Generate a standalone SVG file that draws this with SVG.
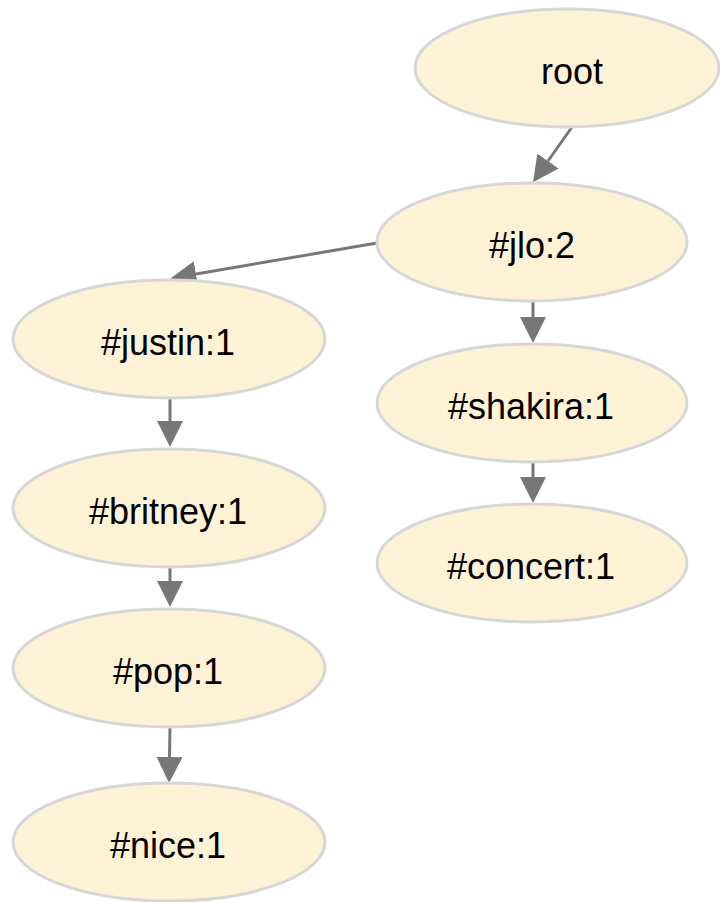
<svg xmlns="http://www.w3.org/2000/svg" width="720" height="902" viewBox="0 0 720 902">
<style>
.node ellipse{fill:#fef2d6;stroke:#d6d6d6;stroke-width:3}
.node text{font-family:"Liberation Sans",Arial,sans-serif;font-size:36px;fill:#000;text-anchor:middle}
.edges path{fill:none;stroke:#777;stroke-width:3}
</style>
<defs>
<marker id="arr" markerUnits="userSpaceOnUse" markerWidth="26" markerHeight="26" refX="0" refY="13" orient="auto" viewBox="0 0 26 26">
<path d="M0,0 L26,13 L0,26 z" fill="#777"/>
</marker>
</defs>
<rect width="720" height="902" fill="#fff"/>
<g class="edges">
<path d="M572,127 L548,161" marker-end="url(#arr)"/>
<path d="M377,243 L196,274" marker-end="url(#arr)"/>
<path d="M533,302 L533,317" marker-end="url(#arr)"/>
<path d="M533,463 L533,477" marker-end="url(#arr)"/>
<path d="M170,399 L170,421" marker-end="url(#arr)"/>
<path d="M170,568 L170,581" marker-end="url(#arr)"/>
<path d="M170,728 L169.5,757" marker-end="url(#arr)"/>
</g>
<g id="root" class="node"><ellipse cx="567" cy="68" rx="152" ry="59"/><text x="572" y="84">root</text></g>
<g id="jlo" class="node"><ellipse cx="532" cy="242" rx="155" ry="59"/><text x="532" y="258">#jlo:2</text></g>
<g id="justin" class="node"><ellipse cx="169" cy="339" rx="156" ry="59"/><text x="168" y="355">#justin:1</text></g>
<g id="shakira" class="node"><ellipse cx="532" cy="403" rx="155" ry="59"/><text x="531" y="419">#shakira:1</text></g>
<g id="britney" class="node"><ellipse cx="169" cy="508" rx="156" ry="59"/><text x="168" y="524">#britney:1</text></g>
<g id="concert" class="node"><ellipse cx="532" cy="563" rx="155" ry="59"/><text x="531" y="579">#concert:1</text></g>
<g id="pop" class="node"><ellipse cx="169" cy="668" rx="156" ry="59"/><text x="168" y="684">#pop:1</text></g>
<g id="nice" class="node"><ellipse cx="169" cy="842" rx="156" ry="59"/><text x="168" y="858">#nice:1</text></g>
</svg>
